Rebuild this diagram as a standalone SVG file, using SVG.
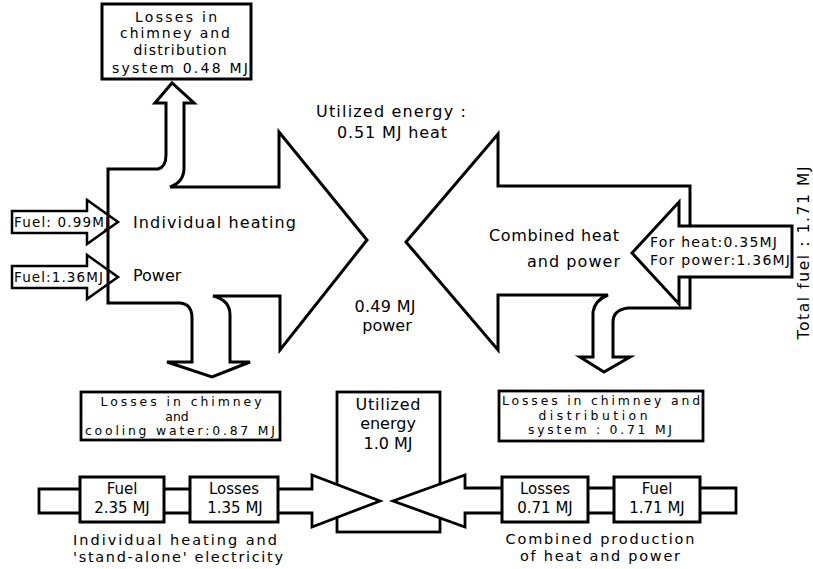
<svg xmlns="http://www.w3.org/2000/svg" width="813" height="569" viewBox="0 0 813 569">
<style>
.o{fill:#fff;stroke:#000;stroke-width:3;stroke-linejoin:miter}
.n{fill:none;stroke:#000;stroke-width:2.5}
.b{fill:#fff;stroke:#000;stroke-width:2.8}
text{font-family:"DejaVu Sans","Liberation Sans",sans-serif;fill:#000}
.l{font-size:16px}
.m{font-size:14px}
.t{font-size:12.4px}
.s{font-size:13.5px}
.k{font-size:14.5px}
.c{text-anchor:middle}
.e{text-anchor:end}
</style>
<rect width="813" height="569" fill="#fff"/>

<g id="ih-arrow">
<path class="o" d="M108,169 L158,169 Q166,167 166,155 L166,103 L155,103 L172,83 L194,103 L184,103 L184,168 Q184,182 170,187 L279,187 L279,132 L367,240 L280,350 L280,296 L213,296 Q230,300 230,315 L230,362 L250,362 L212,377 L167,362 L192,362 L192,318 Q192,304 180,303 L108,303 Z"/>
<text class="l" x="133" y="228" textLength="163">Individual heating</text>
<text class="l" x="133" y="281">Power</text>
</g>

<g id="chp-arrow">
<path class="o" d="M406,242 L498,134 L498,186 L690,186 L690,308 L628,308 Q613,310 613,322 L613,357 L630,357 L604,372 L580,357 L593,357 L593,312 Q595,300 608,295 L498,295 L498,350 Z"/>
<text class="l e" x="619" y="241" textLength="130">Combined heat</text>
<text class="l e" x="620" y="267" textLength="93">and power</text>
</g>

<g id="loss-top">
<rect class="b" x="102" y="4" width="149" height="75" style="stroke-width:3"/>
<text class="m c" x="176" y="22" textLength="82">Losses in</text>
<text class="m c" x="175" y="38" textLength="110">chimney and</text>
<text class="m c" x="180" y="55" textLength="93">distribution</text>
<text class="m c" x="180" y="73" textLength="136">system 0.48 MJ</text>
</g>

<g id="fuel-heat">
<path class="n" d="M12,211 L87,211 L87,200 L118,222 L87,244 L87,233 L12,233 Z"/>
<text class="s" x="14" y="227" textLength="95">Fuel: 0.99MJ</text>
</g>

<g id="fuel-power">
<path class="n" d="M12,266 L87,266 L87,255 L118,277 L87,299 L87,288 L12,288 Z"/>
<text class="s" x="14" y="282" textLength="89">Fuel:1.36MJ</text>
</g>

<g id="chp-fuel">
<path class="o" d="M632,253 L679,202 L679,226 L792,226 L792,277 L679,277 L679,304 Z"/>
<text class="m" x="650" y="247" textLength="127">For heat:0.35MJ</text>
<text class="m" x="650" y="265" textLength="140">For power:1.36MJ</text>
</g>

<g id="total-fuel">
<text class="c" style="font-size:15.5px" transform="translate(809,253) rotate(-90)" textLength="173">Total fuel : 1.71 MJ</text>
</g>

<g id="utilized-top">
<text class="l c" x="391" y="117" textLength="150">Utilized energy :</text>
<text class="l c" x="392" y="138" textLength="110">0.51 MJ heat</text>
</g>

<g id="utilized-power">
<text class="l c" x="385" y="312" textLength="61">0.49 MJ</text>
<text class="l c" x="387" y="331">power</text>
</g>

<g id="loss-ih">
<rect class="b" x="81" y="392" width="199" height="48"/>
<text class="t c" x="181" y="406" textLength="161">Losses in chimney</text>
<text class="t c" x="177" y="420.5">and</text>
<text class="t c" x="180" y="435" textLength="190">cooling water:0.87 MJ</text>
</g>

<g id="loss-chp">
<rect class="b" x="499" y="391" width="204" height="50"/>
<text class="t c" x="601" y="405" textLength="198">Losses in chimney and</text>
<text class="t c" x="593" y="419.5" textLength="109">distribution</text>
<text class="t c" x="600" y="434" textLength="144">system : 0.71 MJ</text>
</g>

<g id="utilized-box">
<rect class="b" x="337" y="392" width="103" height="140"/>
<text class="l c" x="388" y="410" textLength="65">Utilized</text>
<text class="l c" x="388" y="429">energy</text>
<text class="l c" x="388" y="449">1.0 MJ</text>
</g>

<g id="connectors">
<path class="b" d="M39,489 L312,489 L312,475 L380,501 L312,527 L312,513 L39,513 Z"/>
<path class="b" d="M736,488 L465,488 L465,475 L393,501 L465,527 L465,513 L736,513 Z"/>
</g>

<g id="ih-fuel">
<rect class="b" x="80" y="477" width="84" height="45" style="stroke-width:3"/>
<text class="c" x="122" y="494" style="font-size:15px">Fuel</text>
<text class="c" x="122" y="513" style="font-size:15px">2.35 MJ</text>
</g>
<g id="ih-losses">
<rect class="b" x="190" y="477" width="88" height="45" style="stroke-width:3"/>
<text class="c" x="234" y="494" style="font-size:15px">Losses</text>
<text class="c" x="235" y="513" style="font-size:15px">1.35 MJ</text>
</g>
<g id="chp-losses">
<rect class="b" x="502" y="477" width="86" height="45" style="stroke-width:3"/>
<text class="c" x="545" y="494" style="font-size:15px">Losses</text>
<text class="c" x="545" y="513" style="font-size:15px">0.71 MJ</text>
</g>
<g id="chp-fuelbox">
<rect class="b" x="614" y="477" width="86" height="45" style="stroke-width:3"/>
<text class="c" x="657" y="494" style="font-size:15px">Fuel</text>
<text class="c" x="657" y="513" style="font-size:15px">1.71 MJ</text>
</g>

<g id="captions">
<text class="k c" x="175" y="545" textLength="204">Individual heating and</text>
<text class="k c" x="178" y="562" textLength="210">'stand-alone' electricity</text>
<text class="k c" x="600" y="544" textLength="189">Combined production</text>
<text class="k c" x="600" y="561" textLength="160">of heat and power</text>
</g>
</svg>
